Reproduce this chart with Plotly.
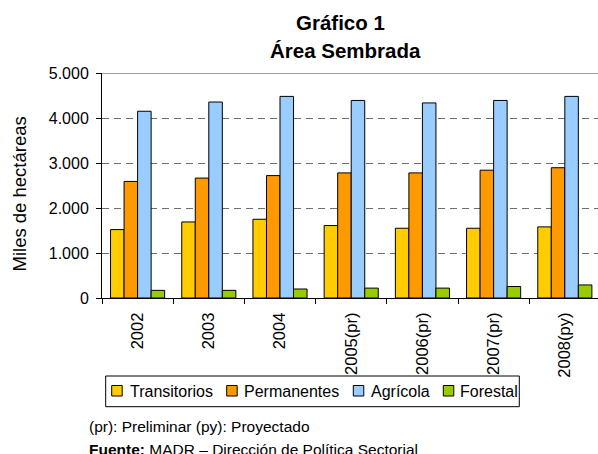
import plotly.graph_objects as go

years = ["2002", "2003", "2004", "2005(pr)", "2006(pr)", "2007(pr)", "2008(py)"]
transitorios = [1520, 1690, 1750, 1610, 1550, 1550, 1580]
permanentes = [2590, 2665, 2720, 2780, 2780, 2840, 2895]
agricola = [4150, 4355, 4480, 4390, 4335, 4390, 4480]
forestal = [170, 170, 200, 220, 220, 255, 290]

series_names = ["Transitorios", "Permanentes", "Agrícola", "Forestal"]
series_colors = ["#FFCC00", "#FF9900", "#99CCFF", "#99CC00"]
series_values = [transitorios, permanentes, agricola, forestal]

FONT = "Liberation Sans, Arial, sans-serif"
W, H = 598, 454
L, R, T, B = 102, 0, 73, 156
PW, PH = W - L - R, H - T - B


def px(x):
    return (x - L) / PW


def py(y):
    return (H - B - y) / PH


fig = go.Figure()
for name, color, vals in zip(series_names, series_colors, series_values):
    fig.add_trace(go.Bar(
        x=years, y=vals, name=name,
        marker=dict(color=color, line=dict(color="black", width=1)),
    ))

fig.update_layout(
    width=W, height=H,
    margin=dict(l=L, r=R, t=T, b=B),
    paper_bgcolor="white", plot_bgcolor="white",
    separators=",.",
    barmode="group", bargap=0.24, bargroupgap=0,
    font=dict(family=FONT, color="black", size=15),
    showlegend=False,
)

fig.update_xaxes(
    type="category", range=[-0.5, 6.466],
    showline=True, linecolor="black", linewidth=1,
    ticks="outside", tickson="boundaries", ticklen=5, tickcolor="black",
    tickangle=-90, tickfont=dict(size=16.5, family=FONT), ticklabelstandoff=7,
    showgrid=False,
)
fig.update_yaxes(
    range=[0, 5000], tickvals=[0, 1000, 2000, 3000, 4000, 5000], tickformat=",d",
    showline=True, linecolor="black", linewidth=1,
    ticks="outside", ticklen=5, tickcolor="black",
    tickfont=dict(size=16, family=FONT), ticklabelstandoff=4,
    showgrid=True, gridcolor="#6e6e6e", gridwidth=1, griddash="7px,5px",
    zeroline=False,
)

# solid top border of plot area at 5.000
fig.add_shape(type="line", xref="paper", yref="y", x0=0, x1=1, y0=5000, y1=5000,
              line=dict(color="#808080", width=1.5))

# titles
fig.add_annotation(text="<b>Gráfico 1</b>", x=px(340), y=py(22), xref="paper", yref="paper",
                   xanchor="center", yanchor="middle", showarrow=False,
                   font=dict(size=20.5, family=FONT, color="black"))
fig.add_annotation(text="<b>Área Sembrada</b>", x=px(345.5), y=py(50), xref="paper", yref="paper",
                   xanchor="center", yanchor="middle", showarrow=False,
                   font=dict(size=20.5, family=FONT, color="black"))

fig.add_annotation(text="Miles de hectáreas", textangle=-90, x=px(18.5), y=py(194),
                   xref="paper", yref="paper", xanchor="center", yanchor="middle",
                   showarrow=False, font=dict(size=18.5, family=FONT, color="black"))

# legend (box, swatches, labels)
fig.add_shape(type="rect", xref="paper", yref="paper", x0=px(105.7), x1=px(519.3),
              y0=py(376), y1=py(406.7), line=dict(color="black", width=1), fillcolor="white")
legend_swatch_x = [111.7, 226.7, 353.3, 443.3]
legend_text_x = [128.3, 242.3, 368.5, 458.3]
for name, color, sx, tx in zip(series_names, series_colors, legend_swatch_x, legend_text_x):
    fig.add_shape(type="rect", xref="paper", yref="paper", x0=px(sx), x1=px(sx + 10.5),
                  y0=py(385.5), y1=py(396), line=dict(color="black", width=1), fillcolor=color)
    fig.add_annotation(text=name, x=px(tx), y=py(391), xref="paper", yref="paper",
                       xanchor="left", yanchor="middle", showarrow=False,
                       font=dict(size=16, family=FONT, color="black"))

# footnotes
fig.add_annotation(text="(pr): Preliminar (py): Proyectado", x=px(87), y=py(426.5),
                   xref="paper", yref="paper", xanchor="left", yanchor="middle",
                   showarrow=False, font=dict(size=15.5, family=FONT, color="black"))
fig.add_annotation(text="<b>Fuente:</b> MADR – Dirección de Política Sectorial",
                   x=px(87), y=py(449.5), xref="paper", yref="paper",
                   xanchor="left", yanchor="middle", showarrow=False,
                   font=dict(size=15.5, family=FONT, color="black"))

fig.write_html("out.html", config={"displayModeBar": False},
               post_script="document.body.style.margin='0';document.body.style.overflow='hidden';")
